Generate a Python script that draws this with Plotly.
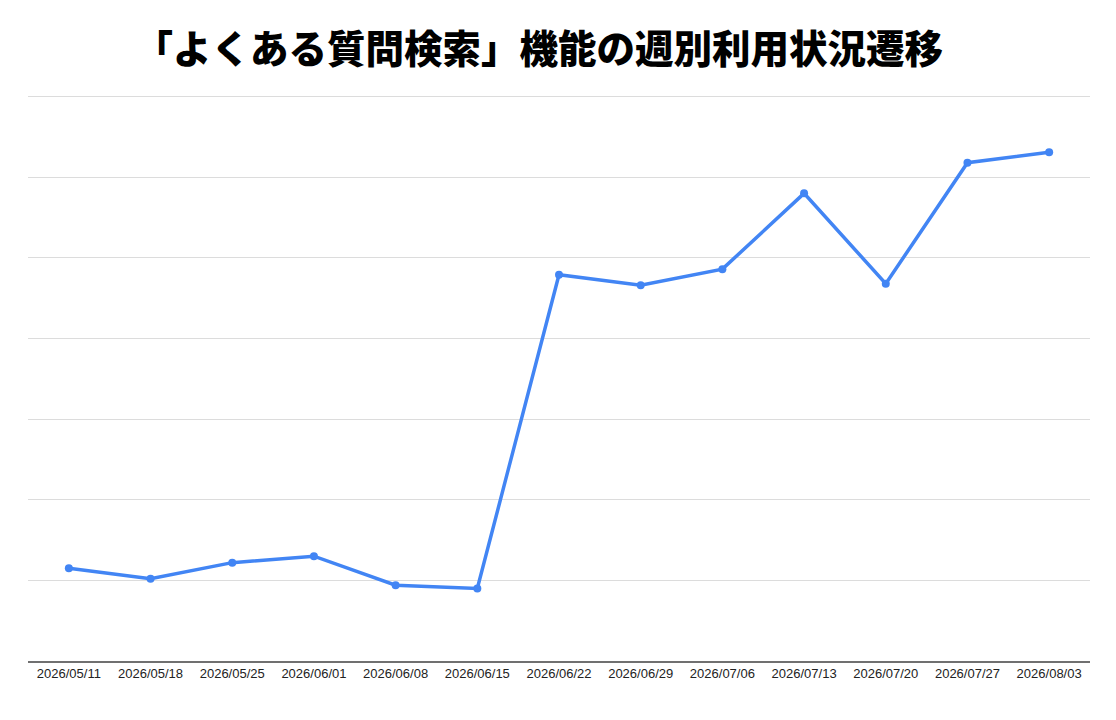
import plotly.graph_objects as go

weeks = ["2026/05/11", "2026/05/18", "2026/05/25", "2026/06/01", "2026/06/08",
         "2026/06/15", "2026/06/22", "2026/06/29", "2026/07/06", "2026/07/13",
         "2026/07/20", "2026/07/27", "2026/08/03"]
usage = [115, 102, 122, 130, 94, 90, 479, 466, 486, 580, 468, 618, 631]

title_text = "「よくある質問検索」機能の週別利用状況遷移"

fig = go.Figure()
fig.add_trace(go.Scatter(
    x=weeks, y=usage, mode="lines+markers",
    line=dict(color="#4285F4", width=3.5),
    marker=dict(color="#4285F4", size=8),
    hoverinfo="x+y", showlegend=False,
))

fig.update_layout(
    width=1108, height=712,
    paper_bgcolor="white", plot_bgcolor="white",
    margin=dict(l=20, r=26, t=87, b=59),
    title=dict(text=title_text, x=0.479, xanchor="center", y=0.941, yanchor="middle",
               font=dict(family="Noto Sans CJK JP", size=38.5, color="#000000", weight=900)),
    xaxis=dict(type="category", showgrid=False, showline=True, linecolor="#707070",
               linewidth=1.5, ticks="", tickfont=dict(family="Liberation Sans, Arial", size=13, color="#222222"),
               range=[-0.5, 12.5], fixedrange=True),
    yaxis=dict(range=[0, 702], dtick=100, showgrid=True, gridcolor="#dcdcdc", gridwidth=1,
               showticklabels=False, zeroline=False, showline=False, fixedrange=True),
)

fig.write_html("out.html")
